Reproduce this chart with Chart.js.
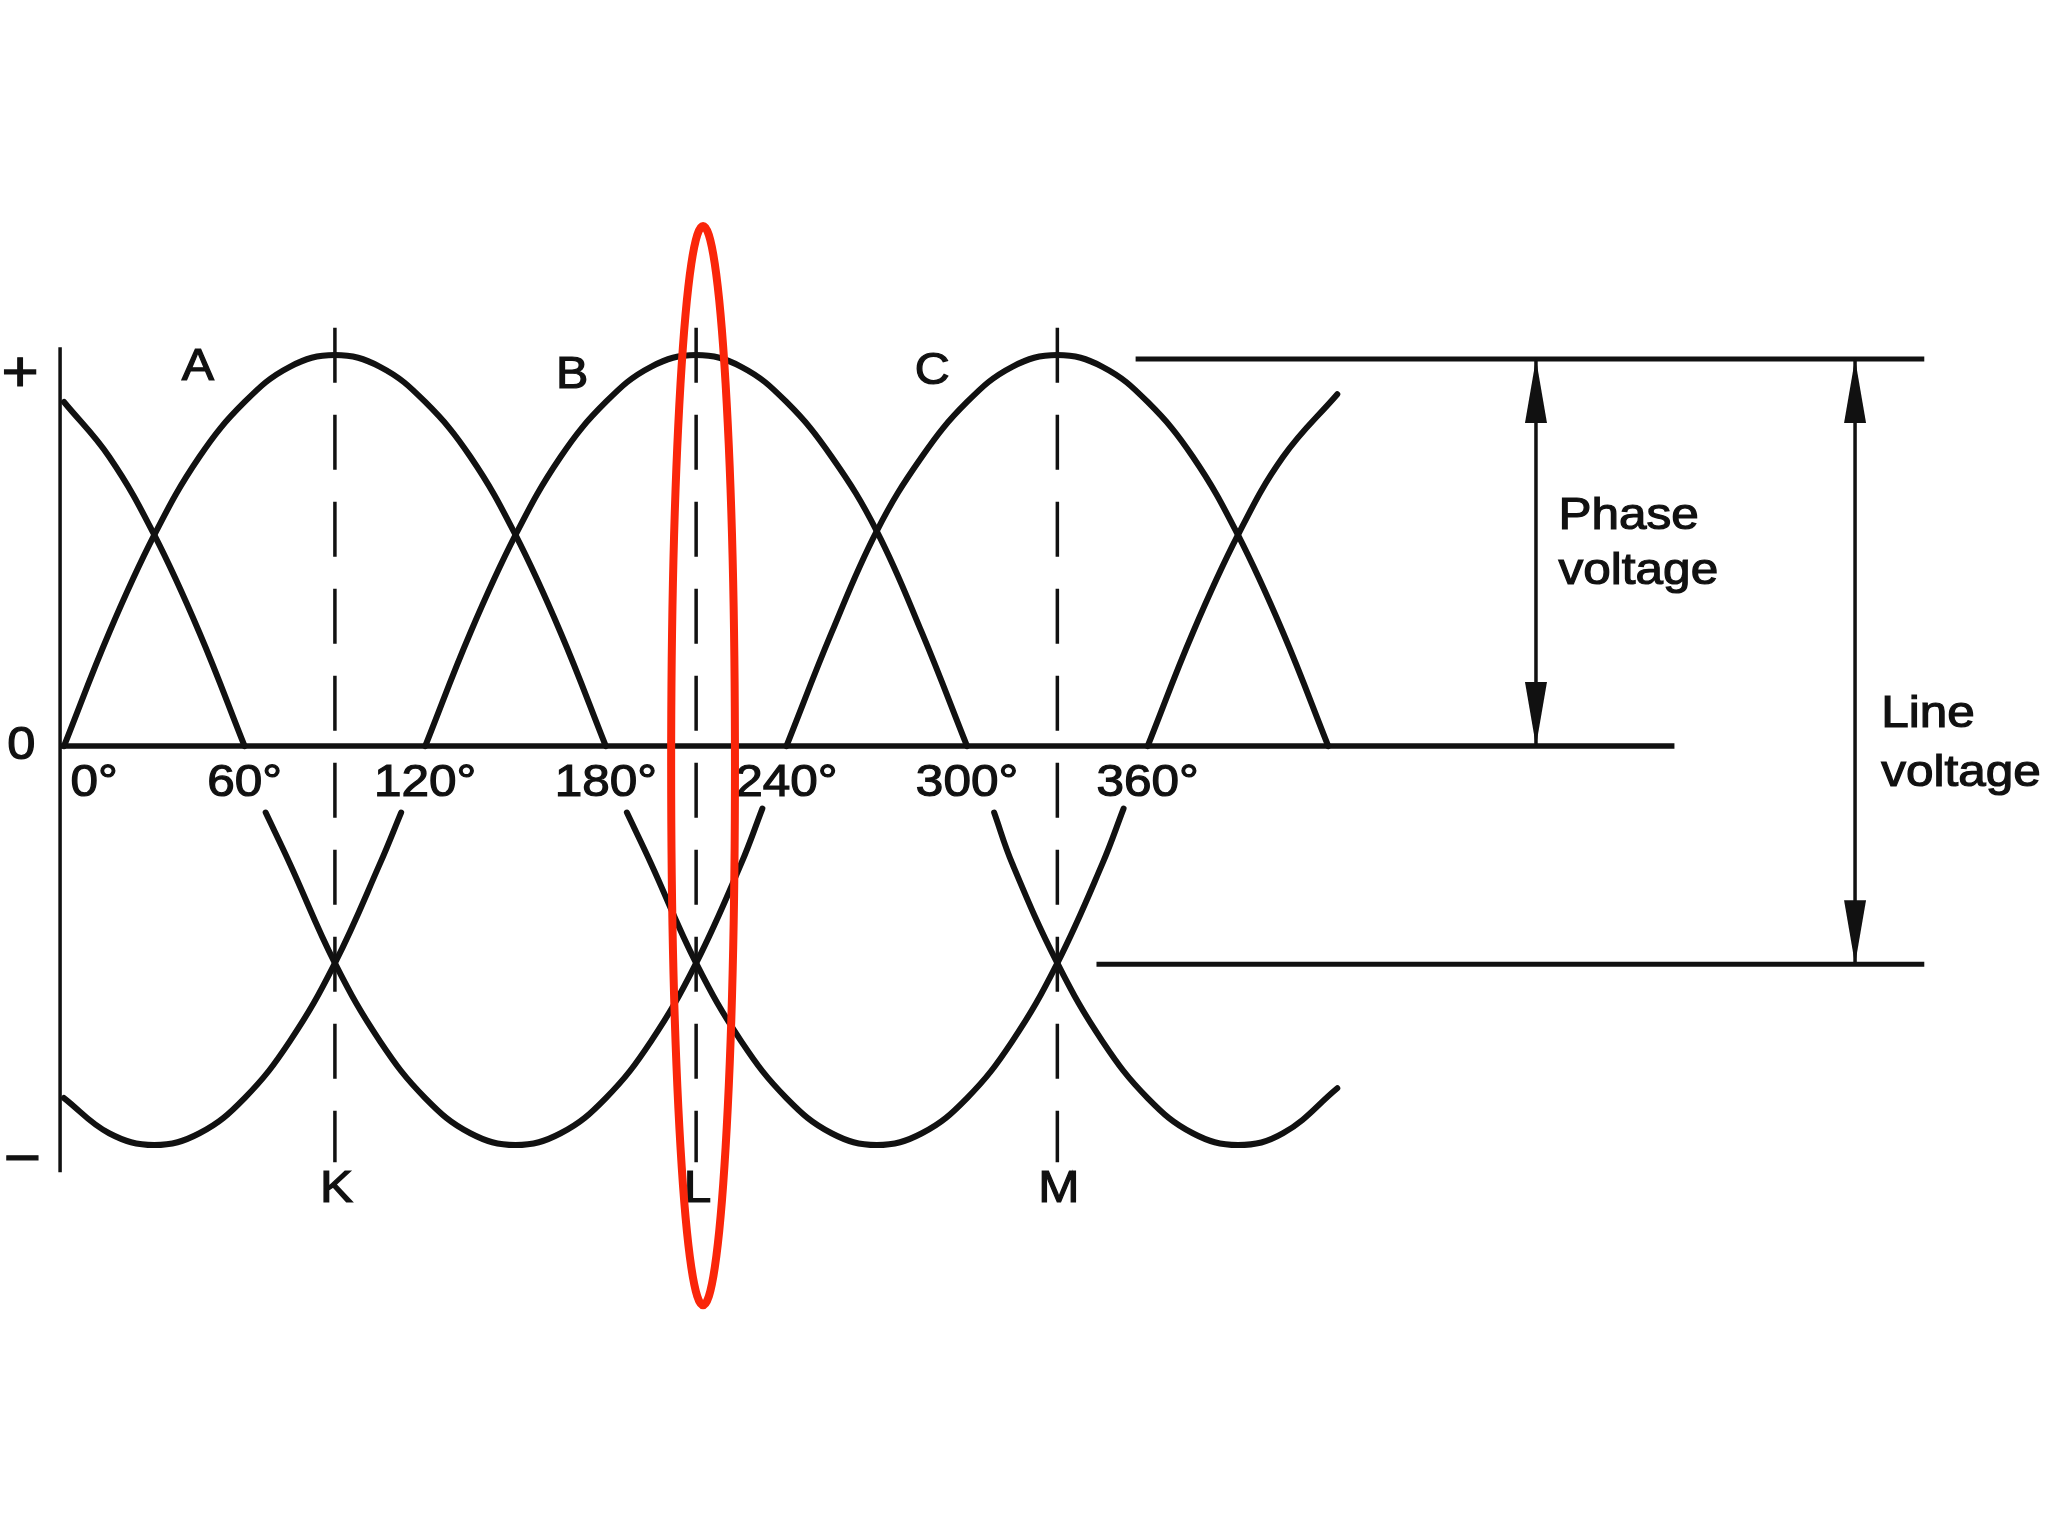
<!DOCTYPE html>
<html>
<head>
<meta charset="utf-8">
<script src="https://cdn.jsdelivr.net/npm/chart.js@4.4.1/dist/chart.umd.min.js"></script>
<style>
  html, body { margin: 0; padding: 0; background: #fff; }
  canvas { display: block; }
</style>
</head>
<body>
<canvas id="waves" width="2048" height="1536"></canvas>
<script>
// angle (degrees) and voltage (1 = peak)

// positive half-waves
const degC0 = [0, 15, 30, 45, 60];
const valC0 = [0.88, 0.74, 0.54, 0.29, 0];
const degA = [0, 15, 30, 45, 60, 75, 90, 105, 120, 135, 150, 165, 180];
const valA = [0, 0.29, 0.54, 0.74, 0.88, 0.97, 1, 0.97, 0.88, 0.74, 0.54, 0.29, 0];
const degB = [120, 135, 150, 165, 180, 195, 210, 225, 240, 255, 270, 285, 300];
const valB = [0, 0.29, 0.54, 0.74, 0.88, 0.97, 1, 0.97, 0.88, 0.74, 0.55, 0.29, 0];
const degC = [240, 255, 270, 285, 300, 315, 330, 345, 360, 375, 390, 405, 420];
const valC = [0, 0.29, 0.55, 0.74, 0.88, 0.97, 1, 0.97, 0.88, 0.74, 0.54, 0.29, 0];
const degA2 = [360, 375, 390, 405, 423];
const valA2 = [0, 0.29, 0.54, 0.74, 0.90];

// negative half-waves (clipped just under the degree labels)
const degNegB = [0, 15, 30, 45, 60, 75, 90, 105, 112];
const valNegB = [-0.90, -0.99, -1.02, -0.99, -0.90, -0.755, -0.555, -0.30, -0.17];
const degNegC = [67, 75, 90, 105, 120, 135, 150, 165, 180, 195, 210, 225, 232];
const valNegC = [-0.17, -0.30, -0.555, -0.755, -0.90, -0.99, -1.02, -0.99, -0.90, -0.755, -0.555, -0.30, -0.16];
const degNegA = [187, 195, 210, 225, 240, 255, 270, 285, 300, 315, 330, 345, 352];
const valNegA = [-0.17, -0.30, -0.555, -0.755, -0.90, -0.99, -1.02, -0.99, -0.90, -0.755, -0.555, -0.30, -0.16];
const degNegB2 = [309, 315, 330, 345, 360, 375, 390, 405, 423];
const valNegB2 = [-0.17, -0.30, -0.555, -0.755, -0.90, -0.99, -1.02, -0.99, -0.875];

// x tick labels
const tickDegrees = [0, 60, 120, 180, 240, 300, 360];
const tickLabels = ['0°', '60°', '120°', '180°', '240°', '300°', '360°'];

// reference lines
const axisTop = 1.02, axisBottom = -1.09;
const zeroLineEnd = 535;
const markDegrees = [90, 210, 330];
const markLabels = ['K', 'L', 'M'];
const phaseLevel = 0.99;      // top reference line
const lineLevel = -0.558;     // through K, L, M crossings
const phaseLineX = [356, 618];
const lowLineX = [343, 618];
const phaseArrowX = 489;
const lineArrowX = 595;

const INK = '#111';
const FONT = '"Liberation Sans", Arial, sans-serif';

function pts(xs, ys) {
    return xs.map((x, i) => ({ x: x, y: ys[i] }));
}

function wave(xs, ys) {
    return {
        data: pts(xs, ys),
        showLine: true,
        borderColor: INK,
        borderWidth: 6,
        borderCapStyle: 'round',
        borderJoinStyle: 'round',
        pointRadius: 0,
        tension: 0.4
    };
}

function straight(xs, ys, width, dash) {
    return {
        data: pts(xs, ys),
        showLine: true,
        borderColor: INK,
        borderWidth: width,
        borderDash: dash || [],
        pointRadius: 0,
        tension: 0
    };
}

const datasets = [
    wave(degC0, valC0), wave(degA, valA), wave(degB, valB), wave(degC, valC), wave(degA2, valA2),
    wave(degNegB, valNegB), wave(degNegC, valNegC), wave(degNegA, valNegA), wave(degNegB2, valNegB2),
    straight([-1.3, -1.3], [axisTop, axisBottom], 3.5),
    straight([-1.3, zeroLineEnd], [0, 0], 5.5),
    straight(phaseLineX, [phaseLevel, phaseLevel], 5),
    straight(lowLineX, [lineLevel, lineLevel], 5),
    straight([phaseArrowX, phaseArrowX], [phaseLevel, 0], 3.5),
    straight([lineArrowX, lineArrowX], [phaseLevel, lineLevel], 3.5)
];
markDegrees.forEach(d => datasets.push(straight([d, d], [1.07, -1.064], 3.5, [55, 32])));

// arrowheads, labels and the red highlight
const overlay = {
    id: 'overlay',
    afterDatasetsDraw(chart) {
        const ctx = chart.ctx;
        const x = chart.scales.x, y = chart.scales.y;

        function head(xv, yv, dir) {
            const px = x.getPixelForValue(xv), py = y.getPixelForValue(yv);
            ctx.beginPath();
            ctx.moveTo(px, py);
            ctx.lineTo(px - 11, py + dir * 64);
            ctx.lineTo(px + 11, py + dir * 64);
            ctx.closePath();
            ctx.fillStyle = INK;
            ctx.fill();
        }
        head(phaseArrowX, phaseLevel, 1);
        head(phaseArrowX, 0, -1);
        head(lineArrowX, phaseLevel, 1);
        head(lineArrowX, lineLevel, -1);

        function text(str, xv, yv, size, align, base) {
            ctx.save();
            ctx.translate(x.getPixelForValue(xv), y.getPixelForValue(yv));
            ctx.scale(1.1, 1);
            ctx.font = size + 'px ' + FONT;
            ctx.fillStyle = INK;
            ctx.strokeStyle = INK;
            ctx.lineWidth = 1.2;
            ctx.textAlign = align || 'center';
            ctx.textBaseline = base || 'middle';
            ctx.fillText(str, 0, 0);
            ctx.strokeText(str, 0, 0);
            ctx.restore();
        }

        tickDegrees.forEach((d, i) => text(tickLabels[i], d === 0 ? d + 10 : d, -0.095, 45));
        markDegrees.forEach((d, i) => text(markLabels[i], d + 0.5, -1.135, 45));
        text('A', 44.5, 0.968, 44);
        text('B', 168.8, 0.946, 44);
        text('C', 288.4, 0.957, 44);
        text('+', -14.6, 0.95, 58);
        text('0', -14.2, 0.0, 46);
        text('−', -13.8, -1.06, 58);
        text('Phase', 496.5, 0.555, 45, 'left', 'alphabetic');
        text('voltage', 496.5, 0.414, 45, 'left', 'alphabetic');
        text('Line', 603.7, 0.049, 45, 'left', 'alphabetic');
        text('voltage', 603.7, -0.102, 45, 'left', 'alphabetic');

        // red ellipse around L
        const cx = x.getPixelForValue(212.3), cy = y.getPixelForValue(-0.05);
        const rx = x.getPixelForValue(212.3 + 10.6) - cx;
        const ry = cy - y.getPixelForValue(-0.05 + 1.38);
        ctx.beginPath();
        ctx.ellipse(cx, cy, rx, ry, 0, 0, Math.PI * 2);
        ctx.strokeStyle = 'rgb(250, 38, 10)';
        ctx.lineWidth = 8;
        ctx.stroke();
    }
};

new Chart(document.getElementById('waves').getContext('2d'), {
    type: 'scatter',
    data: { datasets: datasets },
    options: {
        responsive: false,
        animation: false,
        layout: { padding: 0 },
        plugins: { legend: { display: false }, tooltip: { enabled: false } },
        scales: {
            x: { type: 'linear', min: -21.26, max: 659.1, display: false },
            y: { type: 'linear', min: -2.02, max: 1.908, display: false }
        }
    },
    plugins: [overlay]
});
</script>
</body>
</html>
